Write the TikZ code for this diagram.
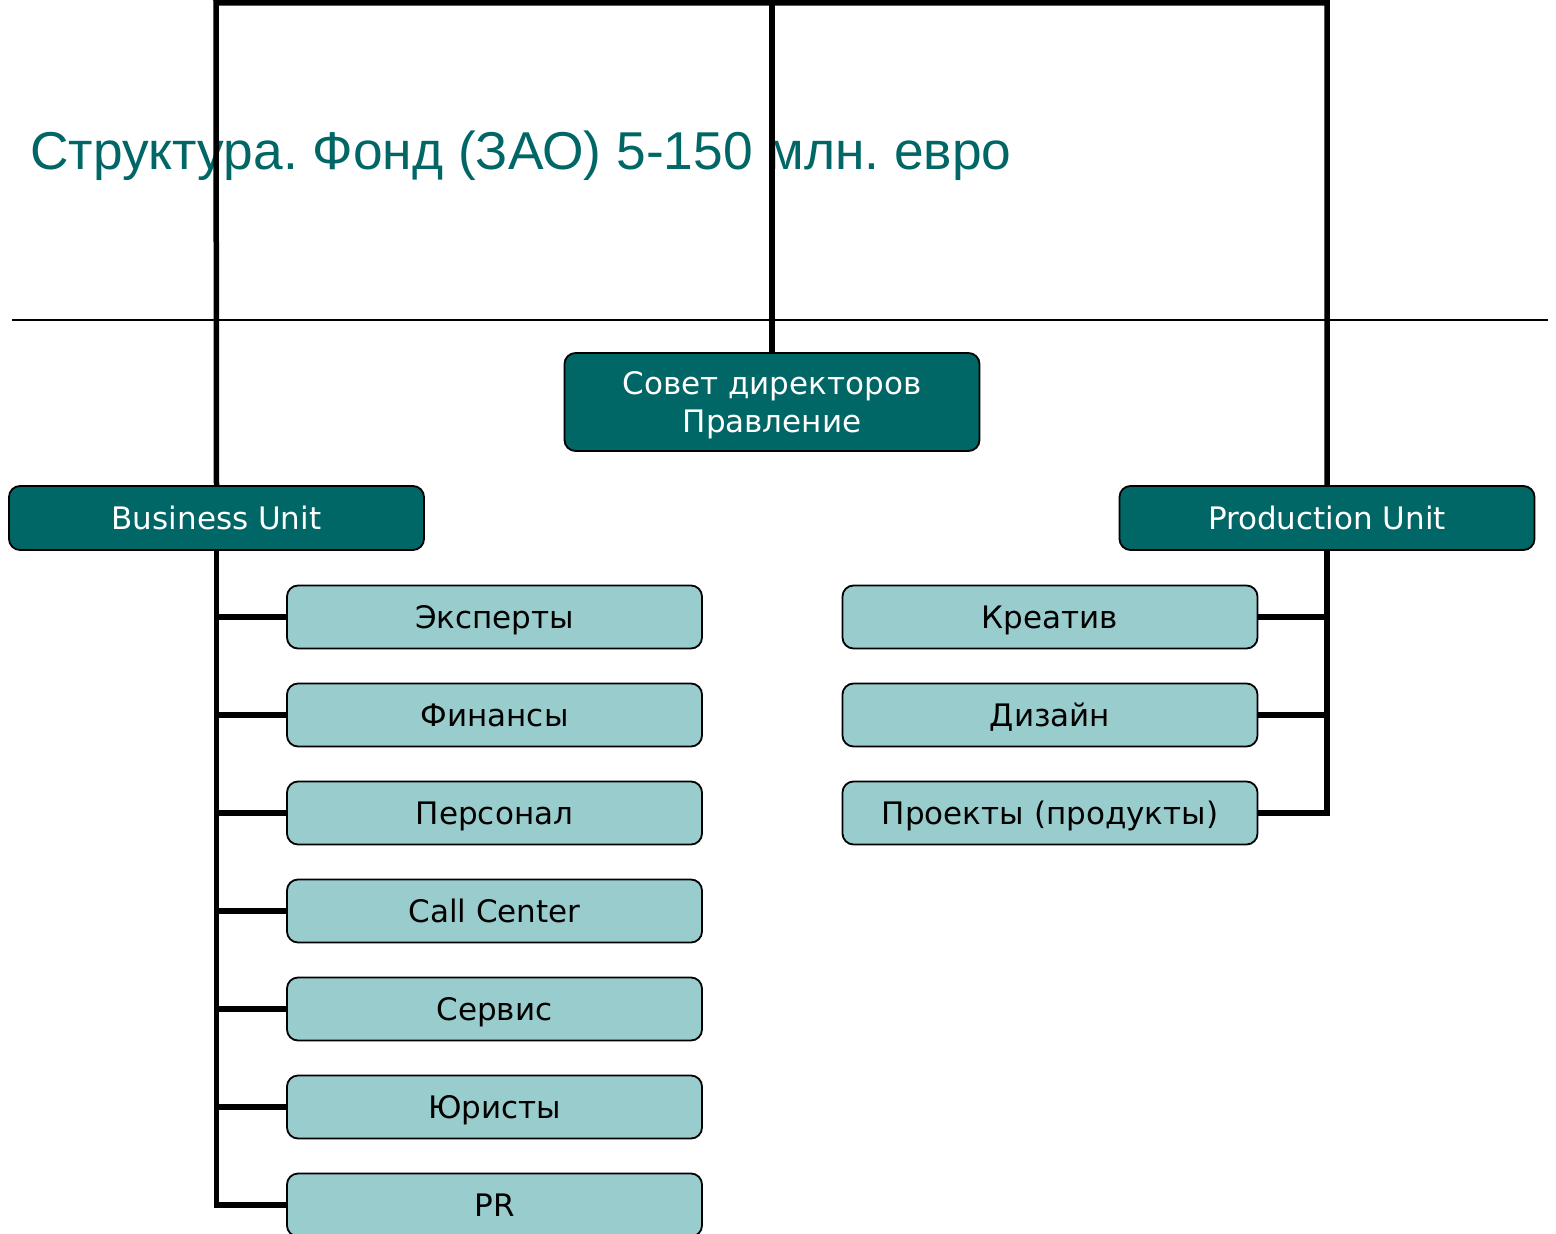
\documentclass[tikz,border=0pt]{standalone}
\usepackage{fontspec}
\setmainfont{DejaVu Sans}
\newfontfamily\titlefont{Liberation Sans}
\definecolor{teal}{RGB}{0,102,102}
\definecolor{lteal}{RGB}{153,204,204}
\begin{document}
\frenchspacing
\begin{tikzpicture}[x=1pt,y=-1pt,
  darkbox/.style={draw=black,line width=1.8pt,fill=teal,rounded corners=11pt,text=white,
    inner sep=0pt,font=\fontsize{31}{38}\selectfont,align=center},
  lightbox/.style={draw=black,line width=1.8pt,fill=lteal,rounded corners=11pt,text=black,
    inner sep=0pt,minimum width=415pt,minimum height=63pt,font=\fontsize{31}{38}\selectfont,
    text height=23pt,text depth=0pt},
  conn/.style={draw=black,line width=5.5pt,line join=miter}]
\useasboundingbox (0,0) rectangle (1556,1234);
\clip (0,0) rectangle (1556,1234);
\fill[white] (0,0) rectangle (1556,1234);
\node[anchor=base west,inner sep=0pt,text=teal,font=\titlefont\fontsize{53.3}{64}\selectfont] (title) at (30,169) {Структура. Фонд (ЗАО) 5-150 млн. евро};
\draw[black,line width=2pt] (12,320) -- (1548,320);
\node[darkbox,minimum width=415pt,minimum height=98pt,text height=61pt,text depth=0pt] (sov) at (772,402) {Совет директоров\\Правление};
\node[darkbox,minimum width=415pt,minimum height=64pt,text height=23pt,text depth=0pt] (bu) at (216.5,518) {Business Unit};
\node[darkbox,minimum width=415pt,minimum height=64pt,text height=23pt,text depth=0pt] (pu) at (1327,518) {Production Unit};
\node[lightbox] (b1) at (494.5,617) {Эксперты};
\node[lightbox] (b2) at (494.5,715) {Финансы};
\node[lightbox] (b3) at (494.5,813) {Персонал};
\node[lightbox] (b4) at (494.5,911) {Call Center};
\node[lightbox] (b5) at (494.5,1009) {Сервис};
\node[lightbox] (b6) at (494.5,1107) {Юристы};
\node[lightbox] (b7) at (494.5,1205) {PR};
\node[lightbox] (p1) at (1050,617) {Креатив};
\node[lightbox] (p2) at (1050,715) {Дизайн};
\node[lightbox] (p3) at (1050,813) {Проекты (продукты)};
\coordinate (tl) at (216,2.8);
\coordinate (tr) at (1327,2.8);
\draw[conn] (bu.north) -- (tl) -- (tr) -- (pu.north);
\draw[conn] (sov.north) -- (sov.north |- tl);
\draw[conn] (bu.south) |- (b7.west);
\foreach \n in {b1,b2,b3,b4,b5,b6} \draw[conn] (bu.south |- \n.west) -- (\n.west);
\draw[conn] (pu.south) |- (p3.east);
\foreach \n in {p1,p2} \draw[conn] (pu.south |- \n.east) -- (\n.east);
\end{tikzpicture}
\end{document}
